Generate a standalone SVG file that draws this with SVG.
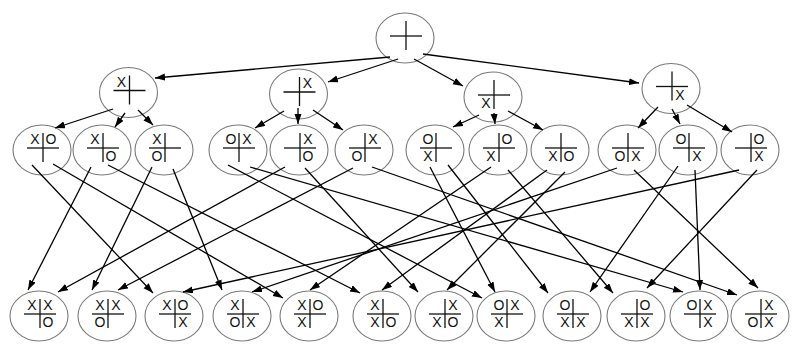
<svg xmlns="http://www.w3.org/2000/svg" xmlns:xlink="http://www.w3.org/1999/xlink" width="800" height="364" viewBox="0 0 800 364">
<style>
.n ellipse{fill:#fff;stroke:#7a7a7a;stroke-width:1.1}
.gl{stroke:#111;stroke-width:1.3;fill:none}
text{font-family:"Liberation Sans",Arial,sans-serif;font-size:14px;fill:#111;text-anchor:middle}
.e line{stroke:#000;stroke-width:1.3;marker-end:url(#ah)}
</style>
<defs>
<marker id="ah" markerUnits="userSpaceOnUse" markerWidth="11" markerHeight="8" refX="10" refY="3.5" orient="auto"><path d="M0,0 L10,3.5 L0,7 z" fill="#000"/></marker>
<g id="grid" class="gl"><line x1="-16" y1="0" x2="16" y2="0"/><line x1="0" y1="-15" x2="0" y2="14"/></g>
</defs>
<g id="root" class="n" transform="translate(405,38)"><ellipse rx="29" ry="25"/><use xlink:href="#grid" x="1" y="-2"/></g>
<g id="a1" class="n" transform="translate(128.5,92.5)"><ellipse rx="29" ry="25"/><use xlink:href="#grid" x="1" y="-2"/><text x="-7" y="-6">X</text></g>
<g id="a2" class="n" transform="translate(298.5,94)"><ellipse rx="29" ry="25"/><use xlink:href="#grid" x="1" y="-2"/><text x="9" y="-6">X</text></g>
<g id="a3" class="n" transform="translate(493,97)"><ellipse rx="29" ry="25"/><use xlink:href="#grid" x="1" y="-2"/><text x="-7" y="11">X</text></g>
<g id="a4" class="n" transform="translate(671,88.5)"><ellipse rx="29" ry="25"/><use xlink:href="#grid" x="1" y="-2"/><text x="9" y="11">X</text></g>
<g id="b1" class="n" transform="translate(42,150)"><ellipse rx="29" ry="25"/><use xlink:href="#grid" x="1" y="-2"/><text x="-7" y="-6">X</text><text x="9" y="-6">O</text></g>
<g id="b2" class="n" transform="translate(102,150)"><ellipse rx="29" ry="25"/><use xlink:href="#grid" x="1" y="-2"/><text x="-7" y="-6">X</text><text x="9" y="11">O</text></g>
<g id="b3" class="n" transform="translate(164,150)"><ellipse rx="29" ry="25"/><use xlink:href="#grid" x="1" y="-2"/><text x="-7" y="-6">X</text><text x="-7" y="11">O</text></g>
<g id="b4" class="n" transform="translate(238,150)"><ellipse rx="29" ry="25"/><use xlink:href="#grid" x="1" y="-2"/><text x="-7" y="-6">O</text><text x="9" y="-6">X</text></g>
<g id="b5" class="n" transform="translate(299,150)"><ellipse rx="29" ry="25"/><use xlink:href="#grid" x="1" y="-2"/><text x="9" y="-6">X</text><text x="9" y="11">O</text></g>
<g id="b6" class="n" transform="translate(364,150)"><ellipse rx="29" ry="25"/><use xlink:href="#grid" x="1" y="-2"/><text x="9" y="-6">X</text><text x="-7" y="11">O</text></g>
<g id="b7" class="n" transform="translate(435,150)"><ellipse rx="29" ry="25"/><use xlink:href="#grid" x="1" y="-2"/><text x="-7" y="-6">O</text><text x="-7" y="11">X</text></g>
<g id="b8" class="n" transform="translate(498,150)"><ellipse rx="29" ry="25"/><use xlink:href="#grid" x="1" y="-2"/><text x="9" y="-6">O</text><text x="-7" y="11">X</text></g>
<g id="b9" class="n" transform="translate(560,150)"><ellipse rx="29" ry="25"/><use xlink:href="#grid" x="1" y="-2"/><text x="-7" y="11">X</text><text x="9" y="11">O</text></g>
<g id="b10" class="n" transform="translate(627,150)"><ellipse rx="29" ry="25"/><use xlink:href="#grid" x="1" y="-2"/><text x="-7" y="11">O</text><text x="9" y="11">X</text></g>
<g id="b11" class="n" transform="translate(688,150)"><ellipse rx="29" ry="25"/><use xlink:href="#grid" x="1" y="-2"/><text x="-7" y="-6">O</text><text x="9" y="11">X</text></g>
<g id="b12" class="n" transform="translate(750,150)"><ellipse rx="29" ry="25"/><use xlink:href="#grid" x="1" y="-2"/><text x="9" y="-6">O</text><text x="9" y="11">X</text></g>
<g id="c1" class="n" transform="translate(39,316)"><ellipse rx="29" ry="25"/><use xlink:href="#grid" x="1" y="-2"/><text x="-7" y="-6">X</text><text x="9" y="-6">X</text><text x="9" y="11">O</text></g>
<g id="c2" class="n" transform="translate(107,316)"><ellipse rx="29" ry="25"/><use xlink:href="#grid" x="1" y="-2"/><text x="-7" y="-6">X</text><text x="9" y="-6">X</text><text x="-7" y="11">O</text></g>
<g id="c3" class="n" transform="translate(174,316)"><ellipse rx="29" ry="25"/><use xlink:href="#grid" x="1" y="-2"/><text x="-7" y="-6">X</text><text x="9" y="-6">O</text><text x="9" y="11">X</text></g>
<g id="c4" class="n" transform="translate(242,316)"><ellipse rx="29" ry="25"/><use xlink:href="#grid" x="1" y="-2"/><text x="-7" y="-6">X</text><text x="-7" y="11">O</text><text x="9" y="11">X</text></g>
<g id="c5" class="n" transform="translate(309,316)"><ellipse rx="29" ry="25"/><use xlink:href="#grid" x="1" y="-2"/><text x="-7" y="-6">X</text><text x="9" y="-6">O</text><text x="-7" y="11">X</text></g>
<g id="c6" class="n" transform="translate(382,316)"><ellipse rx="29" ry="25"/><use xlink:href="#grid" x="1" y="-2"/><text x="-7" y="-6">X</text><text x="-7" y="11">X</text><text x="9" y="11">O</text></g>
<g id="c7" class="n" transform="translate(444,316)"><ellipse rx="29" ry="25"/><use xlink:href="#grid" x="1" y="-2"/><text x="9" y="-6">X</text><text x="-7" y="11">X</text><text x="9" y="11">O</text></g>
<g id="c8" class="n" transform="translate(506,316)"><ellipse rx="29" ry="25"/><use xlink:href="#grid" x="1" y="-2"/><text x="-7" y="-6">O</text><text x="9" y="-6">X</text><text x="-7" y="11">X</text></g>
<g id="c9" class="n" transform="translate(572,316)"><ellipse rx="29" ry="25"/><use xlink:href="#grid" x="1" y="-2"/><text x="-7" y="-6">O</text><text x="-7" y="11">X</text><text x="9" y="11">X</text></g>
<g id="c10" class="n" transform="translate(636,316)"><ellipse rx="29" ry="25"/><use xlink:href="#grid" x="1" y="-2"/><text x="9" y="-6">O</text><text x="-7" y="11">X</text><text x="9" y="11">X</text></g>
<g id="c11" class="n" transform="translate(699,316)"><ellipse rx="29" ry="25"/><use xlink:href="#grid" x="1" y="-2"/><text x="-7" y="-6">O</text><text x="9" y="-6">X</text><text x="9" y="11">X</text></g>
<g id="c12" class="n" transform="translate(760,316)"><ellipse rx="29" ry="25"/><use xlink:href="#grid" x="1" y="-2"/><text x="9" y="-6">X</text><text x="-7" y="11">O</text><text x="9" y="11">X</text></g>
<g id="edges" class="e">
<line x1="390" y1="57" x2="155" y2="78"/>
<line x1="398" y1="59" x2="328" y2="82"/>
<line x1="414" y1="59" x2="463" y2="86"/>
<line x1="423" y1="54" x2="639" y2="83"/>
<line x1="113" y1="109" x2="55" y2="128"/>
<line x1="125" y1="113" x2="115" y2="127"/>
<line x1="138" y1="110" x2="153" y2="125"/>
<line x1="284" y1="111" x2="255" y2="128"/>
<line x1="298" y1="108" x2="298" y2="124"/>
<line x1="313" y1="110" x2="343" y2="130"/>
<line x1="479" y1="115" x2="453" y2="127"/>
<line x1="494" y1="113" x2="495" y2="124"/>
<line x1="508" y1="111" x2="543" y2="130"/>
<line x1="658" y1="107" x2="638" y2="128"/>
<line x1="672" y1="109" x2="680" y2="124"/>
<line x1="687" y1="105" x2="732" y2="132"/>
<line x1="32" y1="165" x2="153" y2="293"/>
<line x1="53" y1="164" x2="283" y2="298"/>
<line x1="91" y1="167" x2="28" y2="290"/>
<line x1="108" y1="165" x2="360" y2="293"/>
<line x1="152" y1="167" x2="92" y2="290"/>
<line x1="173" y1="169" x2="222" y2="290"/>
<line x1="228" y1="165" x2="482" y2="298"/>
<line x1="250" y1="167" x2="683" y2="292"/>
<line x1="285" y1="167" x2="58" y2="292"/>
<line x1="305" y1="168" x2="418" y2="292"/>
<line x1="353" y1="168" x2="118" y2="290"/>
<line x1="372" y1="167" x2="737" y2="295"/>
<line x1="430" y1="167" x2="495" y2="292"/>
<line x1="448" y1="165" x2="548" y2="293"/>
<line x1="491" y1="167" x2="310" y2="290"/>
<line x1="508" y1="170" x2="613" y2="293"/>
<line x1="547" y1="170" x2="382" y2="290"/>
<line x1="565" y1="172" x2="447" y2="290"/>
<line x1="617" y1="168" x2="252" y2="292"/>
<line x1="634" y1="170" x2="758" y2="288"/>
<line x1="678" y1="166" x2="590" y2="292"/>
<line x1="695" y1="170" x2="700" y2="290"/>
<line x1="739" y1="170" x2="183" y2="292"/>
<line x1="757" y1="170" x2="647" y2="288"/>
</g>
</svg>
